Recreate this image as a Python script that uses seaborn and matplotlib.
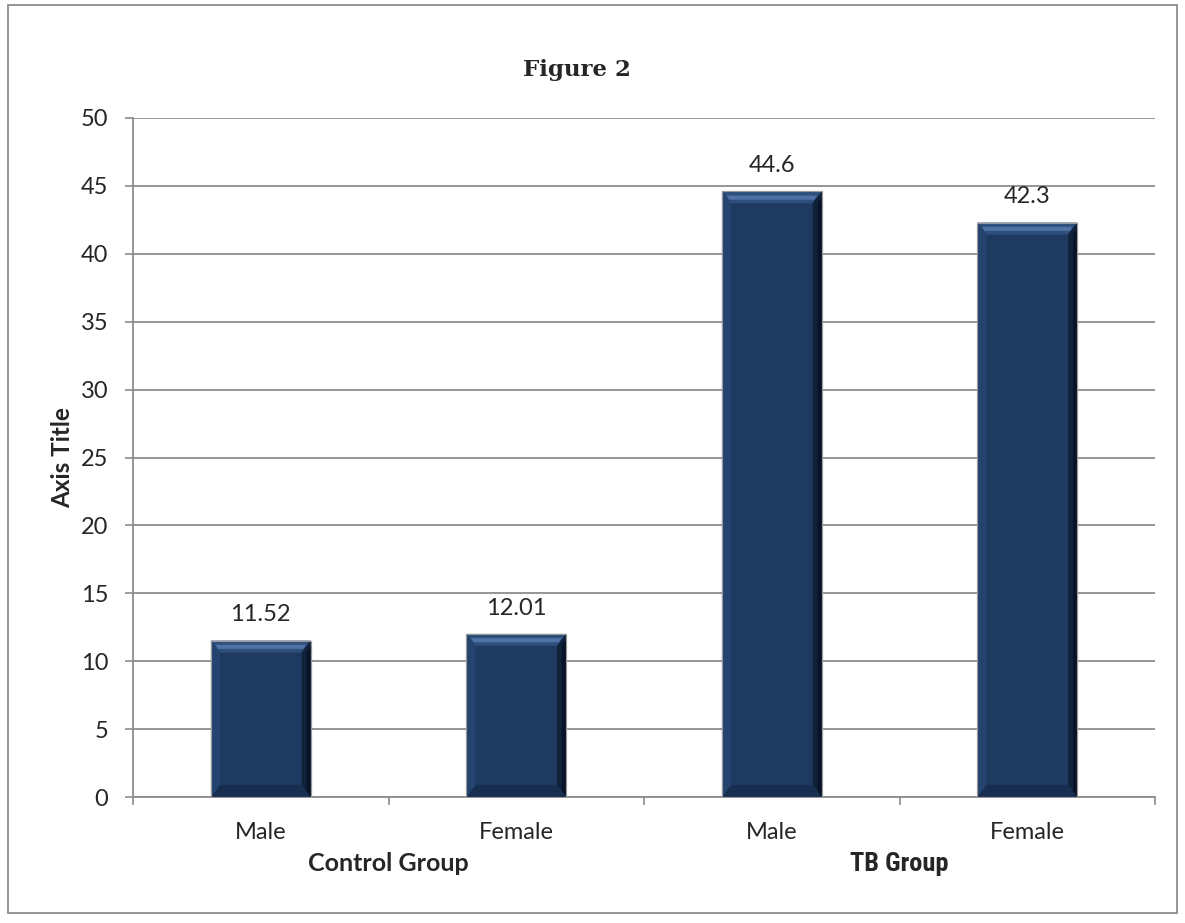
import matplotlib
matplotlib.use("Agg")
import matplotlib.pyplot as plt
import seaborn as sns
import pandas as pd
from matplotlib.patches import Polygon, Rectangle
from matplotlib.ticker import FixedLocator, NullFormatter
from matplotlib.transforms import blended_transform_factory

# ---- data ----
groups = ["Control Group", "Control Group", "TB Group", "TB Group"]
sexes = ["Male", "Female", "Male", "Female"]
values = [11.52, 12.01, 44.6, 42.3]
value_labels = ["11.52", "12.01", "44.6", "42.3"]
group_names = ["Control Group", "TB Group"]
y_ticks = [0, 5, 10, 15, 20, 25, 30, 35, 40, 45, 50]

df = pd.DataFrame({"key": [f"{g}|{s}" for g, s in zip(groups, sexes)],
                   "group": groups, "sex": sexes, "value": values})

sns.set_theme(style="white")
plt.rcParams["font.family"] = ["Lato", "DejaVu Sans"]

W, H = 1185, 923
fig = plt.figure(figsize=(W / 100, H / 100), dpi=100)
ax = fig.add_axes([133 / W, 1 - 797 / H, (1155 - 133) / W, (797 - 118) / H])

face = "#1F3A60"
sns.barplot(data=df, x="key", y="value", ax=ax, color=face, saturation=1,
            width=0.39, edgecolor="#9a9a9a", linewidth=0.8, zorder=3)

FS = 17
ax.set_ylim(0, 50)
ax.set_xlim(-0.5, 3.5)
ax.set_yticks(y_ticks)
ax.set_yticklabels([str(t) for t in y_ticks], fontsize=FS)
ax.yaxis.grid(True, color="#8c8c8c", linewidth=1.3, zorder=0)
ax.set_axisbelow(True)

# x ticks: major at boundaries (marks only), minor at centers (labels)
ax.xaxis.set_major_locator(FixedLocator([-0.5, 0.5, 1.5, 2.5, 3.5]))
ax.xaxis.set_major_formatter(NullFormatter())
ax.xaxis.set_minor_locator(FixedLocator([0, 1, 2, 3]))
ax.set_xticklabels(sexes, minor=True, fontsize=FS)
ax.tick_params(axis="x", which="major", length=5.8, width=1.2, color="#8c8c8c", direction="out", bottom=True)
ax.tick_params(axis="x", which="minor", length=0, pad=18, bottom=True)
ax.tick_params(axis="y", length=5.8, width=1.2, color="#8c8c8c", direction="out", left=True, pad=12)

for s in ["top", "right"]:
    ax.spines[s].set_visible(False)
for s in ["left", "bottom"]:
    ax.spines[s].set_color("#8c8c8c")
    ax.spines[s].set_linewidth(1.3)

ax.set_xlabel("")
ax.set_ylabel("Axis Title", fontsize=17.5, fontweight="bold", labelpad=5)

# bevel effect on bars
bx, by = 0.035, 0.88
for p in list(ax.patches):
    x0, y0 = p.get_x(), p.get_y()
    w, h = p.get_width(), p.get_height()
    x1, y1 = x0 + w, y0 + h
    ax.add_patch(Polygon([[x0, y1], [x1, y1], [x1 - bx, y1 - by], [x0 + bx, y1 - by]],
                         closed=True, facecolor="#2E4F7C", edgecolor="none", zorder=4))
    ax.add_patch(Polygon([[x0 + bx * 0.5, y1 - by * 0.35], [x1 - bx * 0.5, y1 - by * 0.35],
                          [x1 - bx * 0.8, y1 - by * 0.7], [x0 + bx * 0.8, y1 - by * 0.7]],
                         closed=True, facecolor="#4D72A3", edgecolor="none", zorder=4))
    ax.add_patch(Polygon([[x1, y1], [x1, y0], [x1 - bx, y0 + by], [x1 - bx, y1 - by]],
                         closed=True, facecolor="#10213A", edgecolor="none", zorder=4))
    ax.add_patch(Polygon([[x1, y1 - by * 0.5], [x1, y0], [x1 - bx * 0.45, y0 + by * 0.5], [x1 - bx * 0.45, y1 - by]],
                         closed=True, facecolor="#081426", edgecolor="none", zorder=4))
    ax.add_patch(Polygon([[x0, y0], [x1, y0], [x1 - bx, y0 + by], [x0 + bx, y0 + by]],
                         closed=True, facecolor="#182E50", edgecolor="none", zorder=4))
    ax.add_patch(Polygon([[x0, y0], [x0, y1], [x0 + bx, y1 - by], [x0 + bx, y0 + by]],
                         closed=True, facecolor="#24446F", edgecolor="none", zorder=4))
    ax.add_patch(Rectangle((x0, y0), w, h, facecolor="none", edgecolor="#9a9a9a", linewidth=0.8, zorder=5))

# value labels
for p, lab in zip(ax.patches[:len(values)], value_labels):
    ax.annotate(lab, (p.get_x() + p.get_width() / 2, p.get_height()),
                xytext=(0, 11), textcoords="offset points", ha="center", va="bottom", fontsize=FS)

# group labels
tr = blended_transform_factory(ax.transData, fig.transFigure)
ax.text(0.5, 1 - 871 / H, group_names[0], transform=tr,
        ha="center", va="baseline", fontsize=18, fontweight="bold")
ax.text(2.5, 1 - 871 / H, group_names[1], transform=tr,
        ha="center", va="baseline", fontsize=19, fontweight="bold",
        family=["Roboto Condensed", "Roboto", "DejaVu Sans"], stretch="condensed")

# title
fig.text(577 / W, 1 - 76 / H, "Figure 2", ha="center", va="baseline", fontsize=16.5, fontweight="bold",
         family=["DejaVu Serif"])

# outer border
fig.add_artist(Rectangle((8 / W, 1 - 913 / H), (1177 - 8) / W, (913 - 5) / H, transform=fig.transFigure,
                         fill=False, edgecolor="#8c8c8c", linewidth=1.3))

fig.savefig("out.png", dpi=100)
